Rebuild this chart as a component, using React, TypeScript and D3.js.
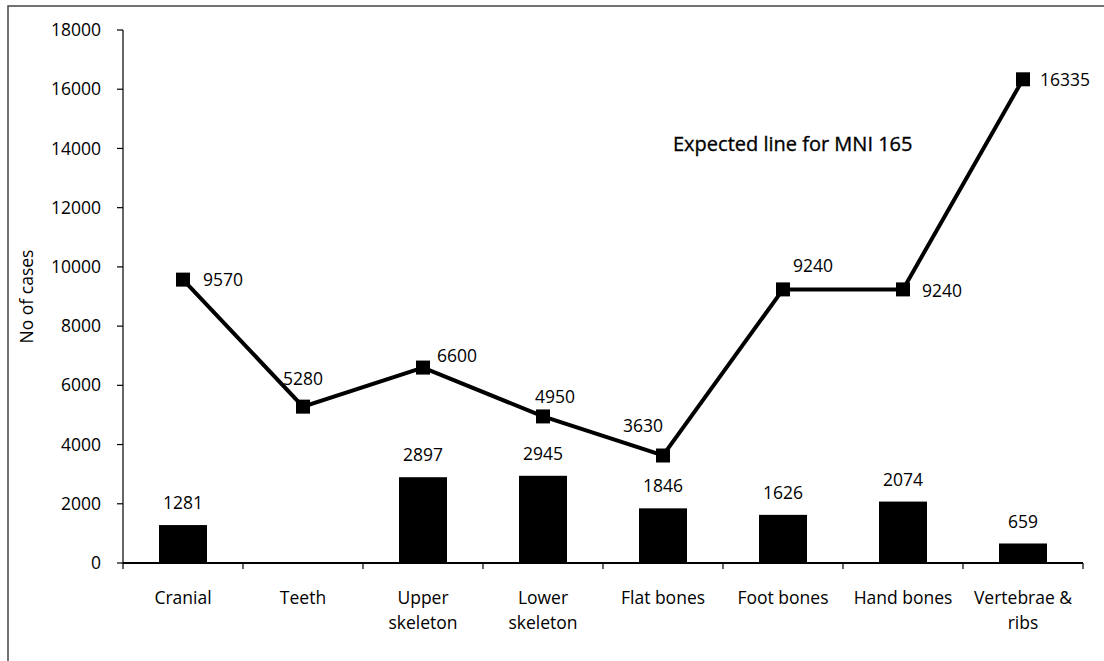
import React from "react"
import {scaleBand, scaleLinear, line} from "d3"

const categories = ["Cranial", "Teeth", "Upper skeleton", "Lower skeleton", "Flat bones", "Foot bones", "Hand bones", "Vertebrae & ribs"]
const categoryLines = [["Cranial"], ["Teeth"], ["Upper", "skeleton"], ["Lower", "skeleton"], ["Flat bones"], ["Foot bones"], ["Hand bones"], ["Vertebrae &", "ribs"]]
const observed = [1281, null, 2897, 2945, 1846, 1626, 2074, 659]
const expected = [9570, 5280, 6600, 4950, 3630, 9240, 9240, 16335]
const yTicks = [0, 2000, 4000, 6000, 8000, 10000, 12000, 14000, 16000, 18000]
const annotation = "Expected line for MNI 165"
const yTitle = "No of cases"

const FONT = "'Open Sans', sans-serif"

function App() {
  const left = 123, right = 1083, top = 30, bottom = 563

  const x = scaleBand().domain(categories).range([left, right]).paddingInner(0.6).paddingOuter(0.3)
  const y = scaleLinear().domain([0, 18000]).range([bottom, top])
  const cx = (i: number) => x(categories[i])! + x.bandwidth() / 2

  const path = line<number>().x((d, i) => cx(i)).y(d => y(d))(expected)

  // where each expected value label sits relative to its marker
  const place = [
    {dx: 20, dy: 0, anchor: "start"},
    {dx: 0, dy: -28, anchor: "middle"},
    {dx: 14, dy: -12, anchor: "start"},
    {dx: 12, dy: -20, anchor: "middle"},
    {dx: 0, dy: -30, anchor: "end"},
    {dx: 30, dy: -24, anchor: "middle"},
    {dx: 19, dy: 1, anchor: "start"},
    {dx: 17, dy: 1, anchor: "start"},
  ]

  const step = x.step()
  const boundaries = categories.map((c, i) => left + i * step).concat([right])
  const fs = 17.5

  return (
    <svg width={1104} height={661} style={{position: "absolute", left: 0, top: 0, background: "#fff"}}
      fontFamily={FONT} fill="#000">
      <rect x={8} y={6} width={1200} height={800} fill="#fff" stroke="#444" strokeWidth={1.5}/>

      {/* y axis */}
      <line x1={left} x2={left} y1={top} y2={bottom} stroke="#000" strokeWidth={1.2}/>
      {yTicks.map(t => (
        <g key={t}>
          <line x1={left - 6} x2={left} y1={y(t)} y2={y(t)} stroke="#000" strokeWidth={1.2}/>
          <text x={101} y={y(t)} dy="0.35em" textAnchor="end" fontSize={fs}>{t}</text>
        </g>
      ))}
      <text transform={`translate(33,${(top + bottom) / 2}) rotate(-90)`} textAnchor="middle" fontSize={fs}>{yTitle}</text>

      {/* bars */}
      {observed.map((v, i) => v == null ? null : (
        <g key={i}>
          <rect x={x(categories[i])} y={y(v)} width={x.bandwidth()} height={bottom - y(v)} fill="#000"/>
          <text x={cx(i)} y={y(v) - 22} dy="0.35em" textAnchor="middle" fontSize={fs}>{v}</text>
        </g>
      ))}

      {/* x axis */}
      <line x1={left} x2={right} y1={bottom} y2={bottom} stroke="#000" strokeWidth={2}/>
      {boundaries.map((b, i) => (
        <line key={i} x1={b} x2={b} y1={bottom} y2={bottom + 6} stroke="#000" strokeWidth={1.2}/>
      ))}
      {categoryLines.map((ls, i) => (
        <text key={i} x={cx(i)} y={598} textAnchor="middle" fontSize={fs}>
          {ls.map((l, j) => <tspan key={j} x={cx(i)} dy={j === 0 ? "0.35em" : 25}>{l}</tspan>)}
        </text>
      ))}

      {/* expected line */}
      <path d={path!} fill="none" stroke="#000" strokeWidth={4} strokeLinejoin="miter"/>
      {expected.map((v, i) => (
        <g key={i}>
          <rect x={cx(i) - 7} y={y(v) - 7} width={14} height={14} fill="#000"/>
          <text x={cx(i) + place[i].dx} y={y(v) + place[i].dy} dy="0.35em" textAnchor={place[i].anchor}
            fontSize={fs}>{v}</text>
        </g>
      ))}

      <text x={673} y={144} dy="0.35em" fontSize={20} stroke="#000" strokeWidth={0.35}>{annotation}</text>
    </svg>
  )
}

export default App
